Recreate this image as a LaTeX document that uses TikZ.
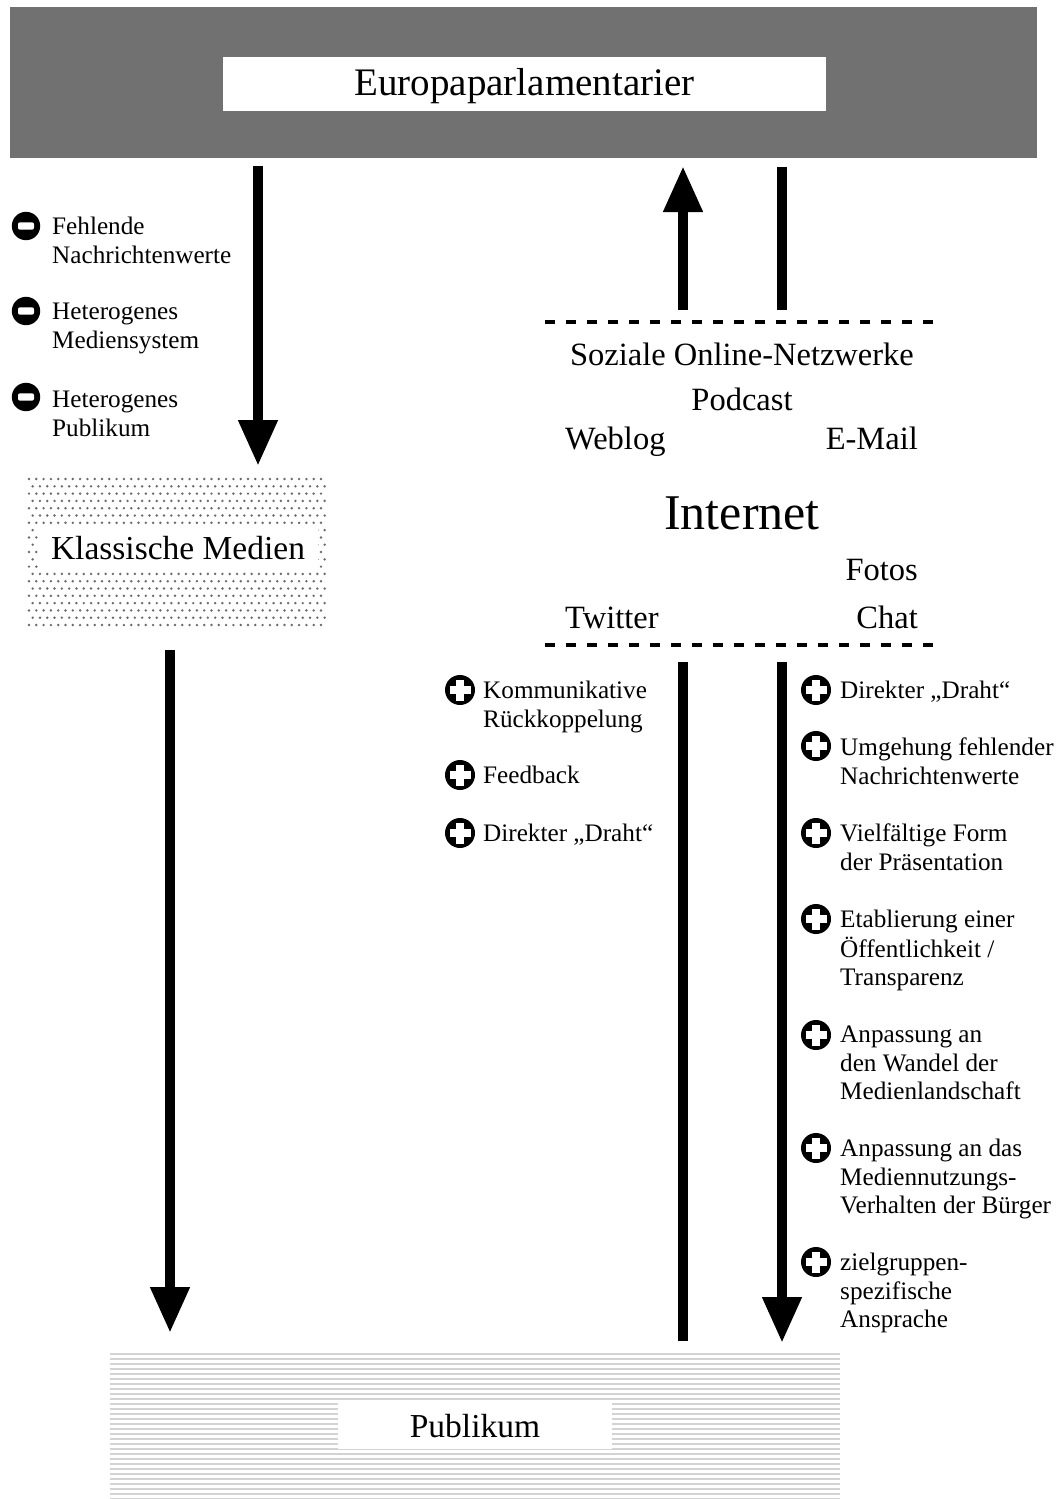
\documentclass[tikz,border=0pt]{standalone}
\usepackage{fontspec}
\setmainfont{Liberation Serif}
\usetikzlibrary{arrows.meta}
\definecolor{bargray}{HTML}{717171}
\definecolor{dotgray}{HTML}{6A6A6A}
\definecolor{stripegray}{HTML}{D3D3D3}
\tikzset{
  titlefont/.style={font=\fontsize{39}{41}\selectfont},
  netfont/.style={font=\fontsize{32.5}{34}\selectfont, inner sep=0pt},
  boxfont/.style={font=\fontsize{33.5}{35}\selectfont, inner sep=0pt},
  item/.style={font=\fontsize{25.2}{28.5}\selectfont, anchor=west, align=left, inner sep=0pt},
  flow/.style={line width=10.5pt},
  flowarrow/.style={flow, -{Triangle[width=37pt,length=46pt]}},
  dashline/.style={line width=4pt, dash pattern=on 10pt off 11pt},
  minusicon/.pic={\fill[black] (0,0) circle (14.2pt);
                  \fill[white, rounded corners=2pt] (-8,-3.7) rectangle (8,3.7);},
  plusicon/.pic={\fill[black] (0,0) circle (15pt);
                 \fill[white] (-10.5,-4.4) rectangle (10.5,4.4);
                 \fill[white] (-4.4,-10.5) rectangle (4.4,10.5);},
}
\begin{document}
\begin{tikzpicture}[x=1pt,y=-1pt]
\useasboundingbox (0,0) rectangle (1055,1499);
\fill[white] (0,0) rectangle (1055,1499);

% top bar
\node[fill=bargray, minimum width=1027pt, minimum height=151pt, inner sep=0pt] (bar) at (523.5,82.5) {};
\node[fill=white, minimum width=603pt, minimum height=54pt, inner sep=0pt, text height=26pt, text depth=3.4pt, titlefont] (euro) at (524.5,84) {Europaparlamentarier};

% Klassische Medien dotted area
\fill[dotgray] \foreach \j in {0,...,20} { \foreach \i in {0,...,40} {
   ({29+7.3*\i+3.65*mod(\j,2)},{479+7.3*\j}) circle (1.35pt) } };
\node[fill=white, minimum width=280pt, minimum height=44pt, boxfont] (km) at (178,548) {Klassische Medien};
\coordinate (kmtop) at (258,466);
\coordinate (kmbot) at (170,650);

% Publikum striped area
\foreach \k in {0,...,29} { \draw[stripegray, line width=2.4pt] (110,{1354+5*\k}) -- (840,{1354+5*\k}); }
\node[fill=white, minimum width=274pt, minimum height=46pt, boxfont] (pub) at (475,1426) {Publikum};

% connector endpoints
\coordinate (s1) at (258,166);
\coordinate (u1) at (683,310);
\coordinate (u1t) at (683,166);
\coordinate (u2) at (782,310);
\coordinate (u2t) at (782,167);
\coordinate (d1) at (683,662);
\coordinate (d1b) at (683,1341);
\coordinate (d2) at (782,662);
\coordinate (pubL) at (170,1333);
\coordinate (pubR) at (782,1343);

\draw[flowarrow] (s1) -- (kmtop);
\draw[flowarrow] (kmbot) -- (pubL);
\draw[flowarrow] (u1) -- (u1t);
\draw[flow] (u2) -- (u2t);
\draw[flow] (d1) -- (d1b);
\draw[flowarrow] (d2) -- (pubR);

% dashed lines
\coordinate (dt1) at (545,322); \coordinate (dt2) at (942,322);
\coordinate (db1) at (545,645); \coordinate (db2) at (942,645);
\draw[dashline] (dt1) -- (dt2);
\draw[dashline] (db1) -- (db2);

% Internet labels
\node[netfont, anchor=base] (soz) at (742,365) {Soziale\hspace{8pt}Online-Netzwerke};
\node[netfont, anchor=base] (pod) at (742,410) {Podcast};
\node[netfont, anchor=base west] (web) at (565,449) {Weblog};
\node[netfont, anchor=base east] (mail) at (918,449) {E-Mail};
\node[font=\fontsize{50}{52}\selectfont, inner sep=0pt, anchor=base] (inet) at (742,529) {Internet};
\node[netfont, anchor=base east] (fot) at (918,580) {Fotos};
\node[netfont, anchor=base west] (twi) at (565,628) {Twitter};
\node[netfont, anchor=base east] (cha) at (918,628) {Chat};

% minus items
\pic at (26,226) {minusicon};
\pic at (26,311) {minusicon};
\pic at (26,397) {minusicon};
\node[item] (m1) at (52,243.4) {\strut Fehlende\\Nachrichtenwerte\strut};
\node[item] (m2) at (52,328.4) {\strut Heterogenes\\Mediensystem\strut};
\node[item] (m3) at (52,416.4) {\strut Heterogenes\\Publikum\strut};

% middle plus items
\pic at (460,690) {plusicon};
\pic at (460,775) {plusicon};
\pic at (460,833) {plusicon};
\node[item] (p1) at (483,707.4) {\strut Kommunikative\\Rückkoppelung\strut};
\node[item] (p2) at (483,778.1) {\strut Feedback};
\node[item] (p3) at (483,836.1) {\strut Direkter „Draht“};

% right plus items
\pic at (816,690) {plusicon};
\pic at (816,746) {plusicon};
\pic at (816,833) {plusicon};
\pic at (816,919) {plusicon};
\pic at (816,1035) {plusicon};
\pic at (816,1148) {plusicon};
\pic at (816,1262) {plusicon};
\node[item] (r1) at (840,693.1) {\strut Direkter „Draht“};
\node[item] (r2) at (840,764.4) {\strut Umgehung fehlender\\Nachrichtenwerte\strut};
\node[item] (r3) at (840,850.4) {\strut Vielfältige Form\\der Präsentation\strut};
\node[item] (r4) at (840,950.7) {\strut Etablierung einer\\Öffentlichkeit /\\Transparenz\strut};
\node[item] (r5) at (840,1065.7) {\strut Anpassung an\\den Wandel der\\Medienlandschaft\strut};
\node[item] (r6) at (840,1179.7) {\strut Anpassung an das\\Mediennutzungs-\\Verhalten der Bürger\strut};
\node[item] (r7) at (840,1293.7) {\strut zielgruppen-\\spezifische\\Ansprache\strut};
\end{tikzpicture}
\end{document}
